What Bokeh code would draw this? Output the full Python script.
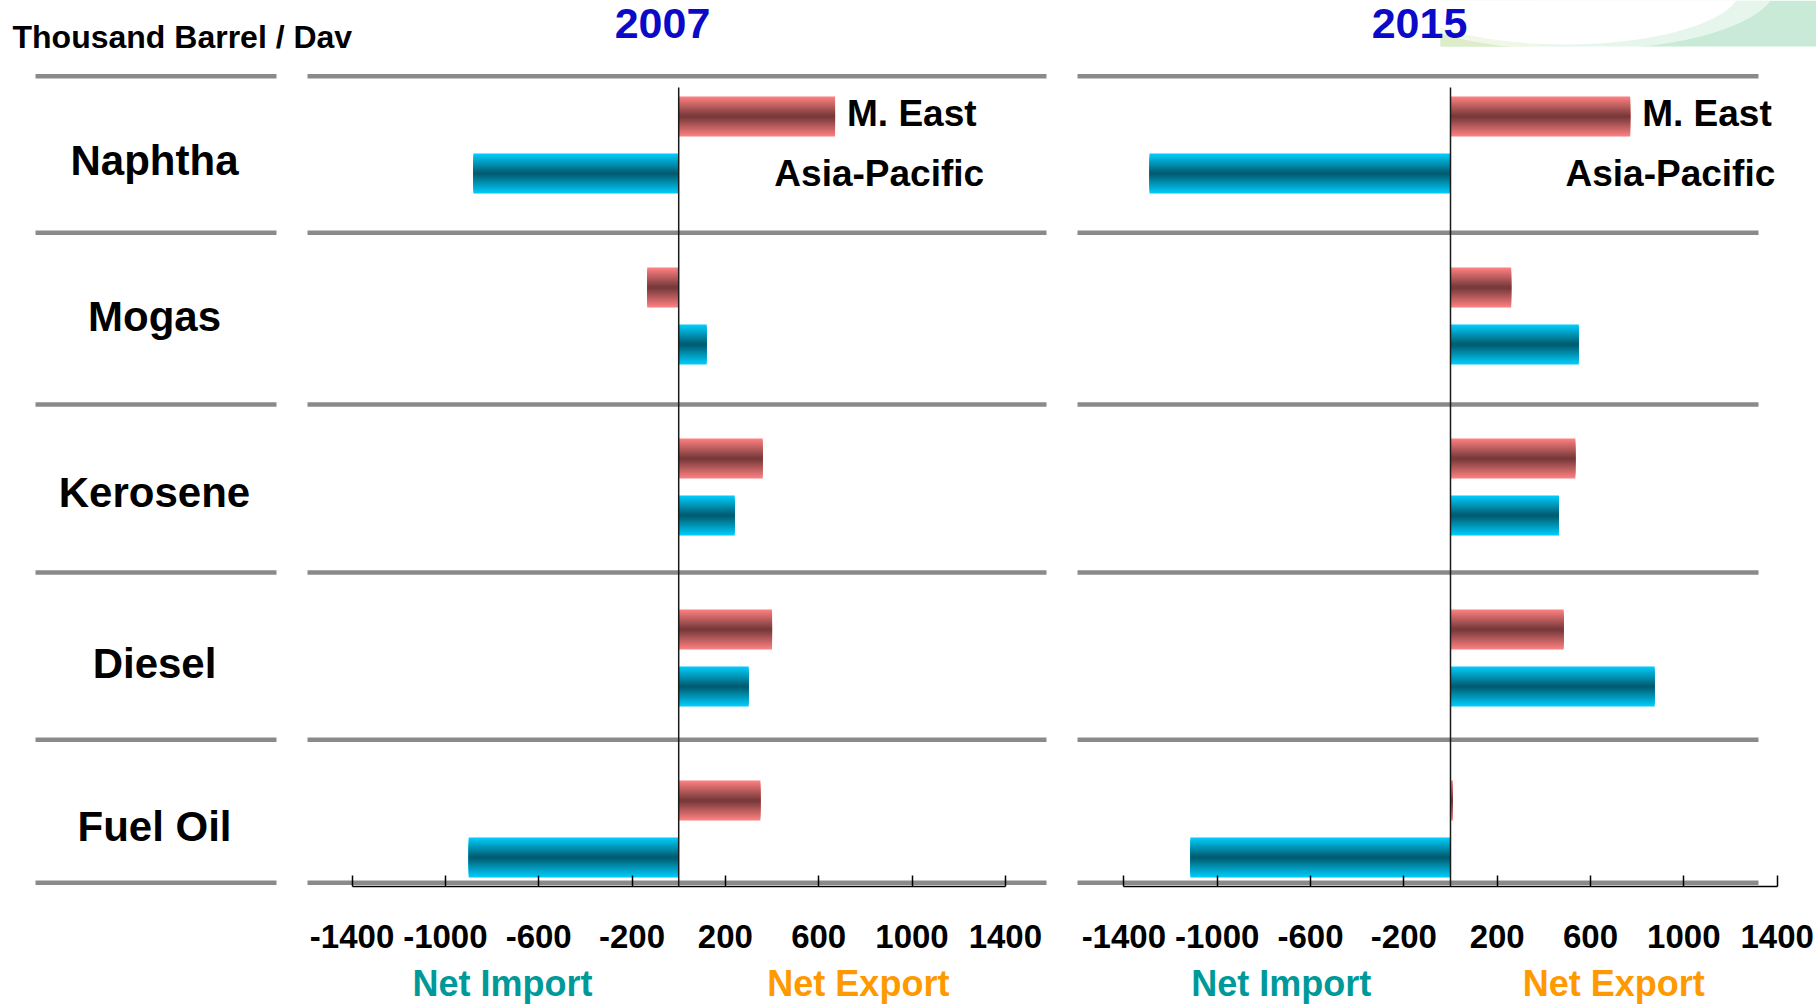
from bokeh.plotting import figure
from bokeh.models import Range1d, LinearAxis, FixedTicker, ColumnDataSource
from bokeh.core.properties import value
from bokeh.embed import file_html
from bokeh.resources import INLINE

# ---------------- data ----------------
categories = ["Naphtha", "Mogas", "Kerosene", "Diesel", "Fuel Oil"]
series_names = ["M. East", "Asia-Pacific"]
years = ["2007", "2015"]
me_2007 = [670, -135, 360, 400, 350]
ap_2007 = [-880, 120, 240, 300, -900]
me_2015 = [770, 260, 535, 485, 10]
ap_2015 = [-1290, 550, 465, 875, -1115]
tick_values = [-1400, -1000, -600, -200, 200, 600, 1000, 1400]
unit_label = "Thousand Barrel / Dav"
side_labels = ["Net Import", "Net Export"]

panel_values = {"2007": (me_2007, ap_2007), "2015": (me_2015, ap_2015)}

# ---------------- layout ----------------
W, H = 1816, 1007
PX_PER_UNIT = 0.23333
ZERO_PX = {"2007": 678.2, "2015": 1450.0}
CAT_PX = 171.0
CAT0_PX = 144.5
SERIES_OFF = 1.0 / 6.0
BAR_H = 40.0 / CAT_PX
AXIS_Y = 4.335

p = figure(width=W, height=H,
           x_range=Range1d(0, W),
           y_range=Range1d((H - CAT0_PX) / CAT_PX, -CAT0_PX / CAT_PX),
           x_axis_type=None, y_axis_type=None,
           toolbar_location=None, output_backend="svg",
           min_border=0, outline_line_color=None)
p.background_fill_color = "white"
p.border_fill_color = "white"
p.extra_y_ranges = {"px": Range1d(H, 0)}
for yr in years:
    z = ZERO_PX[yr]
    p.extra_x_ranges[yr] = Range1d(-z / PX_PER_UNIT, (W - z) / PX_PER_UNIT)

# ---------------- background decoration (top-right swoosh) ----------------
p.quad(left=1440, right=1816, bottom=46, top=0, fill_color="#c8ead6",
       line_color=None, y_range_name="px")
p.quad(left=1440, right=1540, bottom=46, top=0, fill_color="#e2edc4",
       line_color=None, alpha=0.85, y_range_name="px")
p.ellipse(x=1575, y=-14, width=400, height=128, fill_color="white",
          line_color=None, alpha=0.55, y_range_name="px")
p.ellipse(x=1565, y=-12, width=350, height=112, fill_color="white",
          line_color=None, y_range_name="px")

# ---------------- separators ----------------
sep_y = [-0.402, 0.513, 1.518, 2.5, 3.478, 4.315]
columns = [(35, 276), (307, 1046), (1077, 1758)]
x0s, x1s, ys = [], [], []
for (a, b) in columns:
    for yv in sep_y:
        x0s.append(a); x1s.append(b); ys.append(yv)
p.segment(x0=x0s, x1=x1s, y0=ys, y1=ys, line_color="#8a8a8a", line_width=4.5)

# ---------------- bars with banded gradient ----------------
def lerp_hex(c1, c2, t):
    a = [int(c1[i:i + 2], 16) for i in (1, 3, 5)]
    b = [int(c2[i:i + 2], 16) for i in (1, 3, 5)]
    return "#%02x%02x%02x" % tuple(int(round(x + (y - x) * t)) for x, y in zip(a, b))

series_colors = [("#f97e7e", "#7a3a3c"), ("#00c9f7", "#005e74")]
N_LAYERS = 10
tick_text = {v: str(v) for v in tick_values}

for yr in years:
    me, ap = panel_values[yr]
    for s_idx, vals in enumerate((me, ap)):
        off = -SERIES_OFF if s_idx == 0 else SERIES_OFF
        src = ColumnDataSource(dict(y=[i + off for i in range(len(categories))],
                                    v=vals))
        edge, center = series_colors[s_idx]
        for k in range(N_LAYERS):
            frac = 1.0 - k / N_LAYERS
            t = k / (N_LAYERS - 1)
            p.hbar(y="y", left=0, right="v", height=BAR_H * frac, source=src,
                   fill_color=lerp_hex(edge, center, t), line_color=None,
                   x_range_name=yr)
    # zero (category) axis line
    p.segment(x0=[0], x1=[0], y0=[-0.336], y1=[AXIS_Y], line_color="#1a1a1a",
              line_width=1.5, x_range_name=yr)

    # axis
    ax = LinearAxis(x_range_name=yr, fixed_location=AXIS_Y, bounds=(-1400, 1400),
                    ticker=FixedTicker(ticks=tick_values))
    ax.major_label_overrides = tick_text
    ax.major_tick_in = 11
    ax.major_tick_out = 0
    ax.minor_tick_line_color = None
    ax.axis_line_color = "black"
    ax.axis_line_width = 1.5
    ax.major_tick_line_color = "black"
    ax.major_tick_line_width = 1.5
    ax.major_label_text_font = "Liberation Sans"
    ax.major_label_text_font_style = "bold"
    ax.major_label_text_font_size = "33px"
    ax.major_label_text_color = "black"
    ax.major_label_standoff = 39
    p.add_layout(ax, "below")

# ---------------- series labels in the Naphtha row ----------------
lab_font = value("Liberation Sans")
me_anchor = {"2007": me_2007[0], "2015": me_2015[0]}
ap_anchor = {"2007": 410, "2015": 493}
net_pos = {"2007": (-755, 770), "2015": (-725, 700)}
for yr in years:
    p.text(x=[me_anchor[yr]], y=[-SERIES_OFF], text=[series_names[0]],
           x_offset=12, y_offset=-3, text_font=lab_font, text_font_style="bold",
           text_font_size="37px", text_align="left", text_baseline="middle",
           text_color="black", x_range_name=yr)
    p.text(x=[ap_anchor[yr]], y=[SERIES_OFF], text=[series_names[1]],
           text_font=lab_font, text_font_style="bold",
           text_font_size="37px", text_align="left", text_baseline="middle",
           text_color="black", x_range_name=yr)
    p.text(x=list(net_pos[yr]), y=[4.905, 4.905], text=side_labels,
           text_color=["#009999", "#ff9900"],
           text_font=lab_font, text_font_style="bold",
           text_font_size="36px", text_align="center", text_baseline="middle",
           x_range_name=yr)

# ---------------- year titles ----------------
p.text(x=[662, 1419], y=[23, 23], text=years, text_color="#0a0ac8",
       text_font=lab_font, text_font_style="bold", text_font_size="43px",
       text_align="center", text_baseline="middle", y_range_name="px")

# ---------------- unit label ----------------
p.text(x=[12], y=[36], text=[unit_label], text_color="black",
       text_font=lab_font, text_font_style="bold", text_font_size="32px",
       text_align="left", text_baseline="middle", y_range_name="px")

# ---------------- category labels ----------------
nudge = [0.09, 0.0, 0.03, 0.035, -0.015]
p.text(x=[154] * len(categories), y=[i + nudge[i] for i in range(len(categories))],
       text=categories, text_color="black", text_font=lab_font,
       text_font_style="bold", text_font_size="42px", text_align="center",
       text_baseline="middle")

open("out.html", "w").write(file_html(p, INLINE))
